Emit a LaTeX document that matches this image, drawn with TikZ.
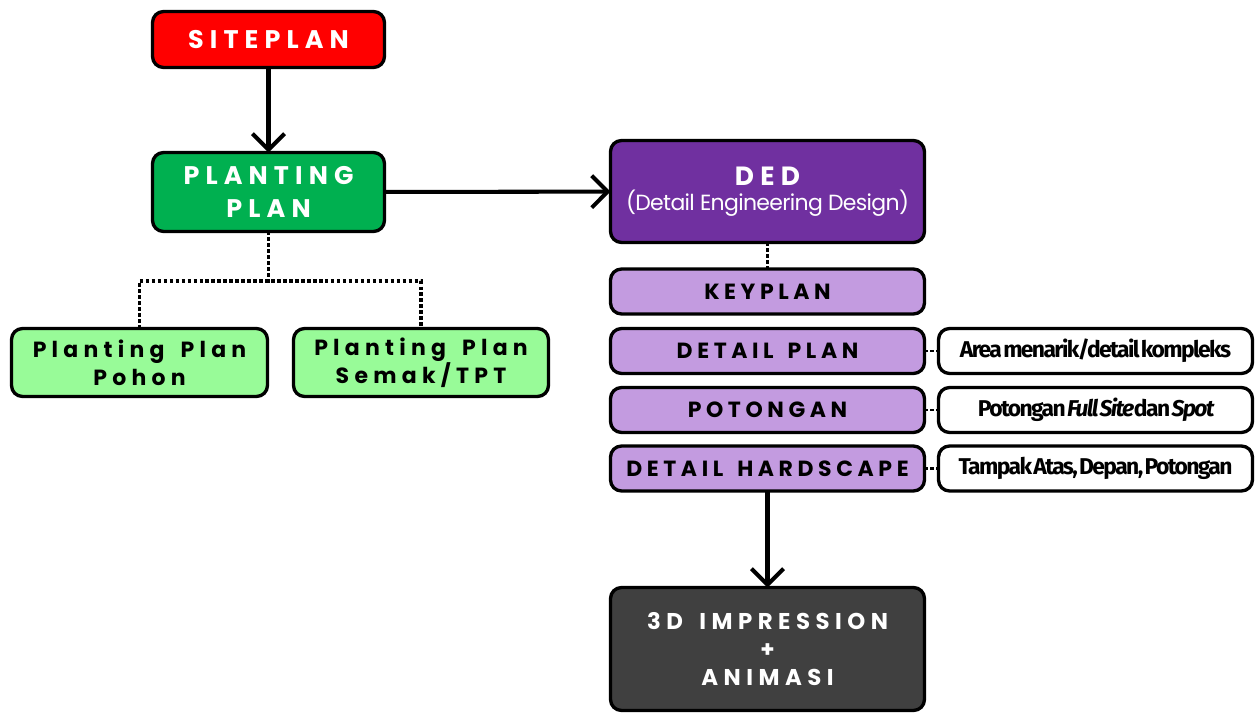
\documentclass[tikz,border=0pt]{standalone}
\usepackage{fontspec}
\setmainfont{Poppins}
\newfontfamily\wideface[LetterSpace=24,WordSpace=1.6]{Poppins}
\newfontfamily\midface[LetterSpace=21,WordSpace=1.5]{Poppins}
\newfontfamily\tightface[LetterSpace=-7,WordSpace=0.35]{Fira Sans}
\newfontfamily\subface[LetterSpace=-3]{Poppins}
\usetikzlibrary{arrows.meta,positioning}
\definecolor{fsRed}{HTML}{FF0000}
\definecolor{fsGreen}{HTML}{00B050}
\definecolor{fsLeaf}{HTML}{98FB98}
\definecolor{fsPurple}{HTML}{7030A0}
\definecolor{fsLilac}{HTML}{C39BE0}
\definecolor{fsDark}{HTML}{404040}

\begin{document}
\begin{tikzpicture}[x=0.02cm,y=-0.02cm,
  bx/.style={draw,line width=1.9pt,rounded corners=2.2mm,inner sep=0pt,outer sep=0pt,align=center},
  big/.style={bx,minimum width=6.28cm},
  sub/.style={big,fill=fsLilac,minimum height=0.9cm,font=\midface\fontsize{12.5}{14}\selectfont\bfseries},
  note/.style={big,fill=white,minimum height=0.9cm,font=\tightface\fontsize{13}{15}\selectfont\bfseries},
  ar/.style={line width=2.3pt,-{Straight Barb[length=3.2mm,width=6.4mm,line width=2.3pt]}},
  dt/.style={line width=2pt,dash pattern=on 2pt off 1.4pt}]
\useasboundingbox (0,0) rectangle (1257,713);

% left column
\node[bx,fill=fsRed,minimum width=4.64cm,minimum height=1.12cm,text=white,
  font=\wideface\fontsize{14.5}{17}\selectfont\bfseries] (site) at (268.5,39.5) {SITEPLAN};
\node[bx,fill=fsGreen,minimum width=4.64cm,minimum height=1.58cm,text=white,
  font=\wideface\fontsize{14.5}{19}\selectfont\bfseries] (pp) at (268.5,192) {PLANTING\\PLAN};
\node[bx,fill=fsLeaf,minimum width=5.12cm,minimum height=1.36cm,
  font=\wideface\fontsize{12.5}{16}\selectfont\bfseries] (pohon) at (139.5,362.5) {Planting Plan\\Pohon};
\node[bx,fill=fsLeaf,minimum width=5.1cm,minimum height=1.36cm,
  font=\wideface\fontsize{12.5}{16}\selectfont\bfseries] (semak) at (421,362.5) {Planting Plan\\Semak/TPT};
\coordinate (split) at (268.5,281);

% right column
\node[big,fill=fsPurple,minimum height=2.04cm,text=white] (ded) at (767.5,191.5)
  {{\wideface\fontsize{15}{18}\selectfont\bfseries DED}\\[2pt]{\subface\fontsize{12.5}{15}\selectfont (Detail Engineering Design)}};
\node[sub] (key) at (767.5,291.5) {KEYPLAN};
\node[sub] (dplan) at (767.5,351) {DETAIL PLAN};
\node[sub] (cut) at (767.5,410) {POTONGAN};
\node[sub] (hard) at (767.5,468.5) {DETAIL HARDSCAPE};
\node[note] (dplann) at (1095.5,351) {Area menarik/detail kompleks};
\node[note] (cutn) at (1095.5,410) {Potongan \textit{Full Site} dan \textit{Spot}};
\node[note] (hardn) at (1095.5,468.5) {Tampak Atas, Depan, Potongan};
\node[big,fill=fsDark,minimum height=2.46cm,text=white,
  font=\wideface\fontsize{13}{16}\selectfont\bfseries] (anim) at (767.5,649) {3D IMPRESSION\\+\\ANIMASI};

% connectors
\draw[ar] (site) -- (pp);
\draw[ar] (pp) -- (ded);
\draw[ar] (hard) -- (anim);
\draw[dt] (pp) -- (split);
\draw[dt] (pohon) |- (split) -| (semak);
\draw[dt] (ded) -- (key);
\foreach \a in {dplan,cut,hard}
  \draw[dt,line width=1.2pt] (\a) -- (\a n);
\end{tikzpicture}
\end{document}
